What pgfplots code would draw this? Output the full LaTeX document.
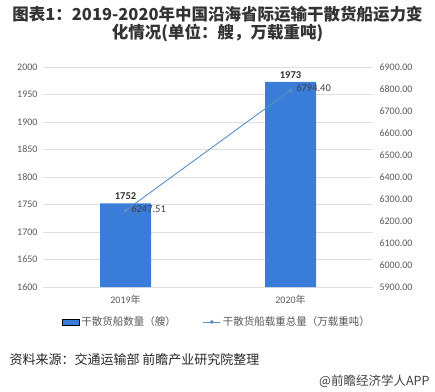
\documentclass[border=0pt]{standalone}
\usepackage{pgfplots}
\pgfplotsset{compat=1.18}
\usepackage{fontspec}
\setmainfont{Carlito}
\newfontfamily\cjk{Noto Sans CJK SC}
\definecolor{barblue}{RGB}{58,125,216}
\definecolor{lineblue}{RGB}{92,142,200}
\definecolor{ticktxt}{RGB}{89,89,89}
\pgfplotsset{/pgf/number format/assume math mode=true}
\begin{document}
\begin{tikzpicture}
\useasboundingbox (0pt,0pt) rectangle (435pt,391pt);
\node[font=\cjk\bfseries\fontsize{16.5}{18}\selectfont, align=center, text=black!80] at (217.5pt,367pt) {图表1：2019-2020年中国沿海省际运输干散货船运力变\\化情况(单位：艘，万载重吨)};
\begin{axis}[at={(43pt,104pt)}, anchor=south west, scale only axis,
  width=330pt, height=220pt,
  xmin=-0.5, xmax=1.5, ymin=1600, ymax=2000, ytick distance=50,
  xtick={0,1}, xticklabels={2019{\cjk 年},2020{\cjk 年}},
  axis line style={draw=none}, tick style={draw=none},
  ymajorgrids, grid style={black!12},
  yticklabel style={font=\fontsize{10}{12}\selectfont, text=ticktxt, xshift=-2pt},
  xticklabel style={font=\fontsize{10}{12}\selectfont, text=ticktxt},
  scaled y ticks=false, y tick label style={/pgf/number format/1000 sep={}},
  ybar, bar width=51pt,
  nodes near coords, nodes near coords style={font=\bfseries\fontsize{10.5}{12}\selectfont, text=black!80, /pgf/number format/1000 sep={}},
]
\addplot[fill=barblue, draw=none] coordinates {(0,1752) (1,1973)};
\end{axis}
\begin{axis}[at={(43pt,104pt)}, anchor=south west, scale only axis,
  width=330pt, height=220pt,
  xmin=-0.5, xmax=1.5, ymin=5900, ymax=6900, ytick distance=100,
  axis y line*=right, axis x line=none,
  axis line style={draw=none}, tick style={draw=none},
  yticklabel style={font=\fontsize{10}{12}\selectfont, text=ticktxt, xshift=3pt,
    /pgf/number format/.cd, fixed, fixed zerofill, precision=2, 1000 sep={}},
  scaled y ticks=false,
  legend style={at={(0.527,-0.159)}, anchor=center, draw=none, fill=none,
    legend columns=2, font=\cjk\fontsize{10.5}{12}\selectfont, text=ticktxt,
    /tikz/every even column/.append style={column sep=25pt}},
]
\addlegendimage{area legend, fill=barblue, draw=none}
\addlegendentry{干散货船数量（艘）}
\addplot[color=lineblue, line width=0.9pt, mark=*, mark size=1.4pt,
  nodes near coords, point meta=y,
  nodes near coords style={anchor=west, xshift=2pt, yshift=2pt, font=\fontsize{10.5}{12}\selectfont, text=black!75,
    /pgf/number format/.cd, fixed, fixed zerofill, precision=2, 1000 sep={}}]
  coordinates {(0,6247.51) (1,6794.40)};
\addlegendentry{干散货船载重总量（万载重吨）}
\end{axis}
\node[anchor=west, font=\cjk\fontsize{13}{15}\selectfont, text=black!85] at (6pt,31pt) {资料来源：交通运输部 前瞻产业研究院整理};
\node[anchor=east, font=\cjk\fontsize{12.5}{14}\selectfont, text=black!75] at (433pt,10pt) {@前瞻经济学人APP};
\end{tikzpicture}
\end{document}
